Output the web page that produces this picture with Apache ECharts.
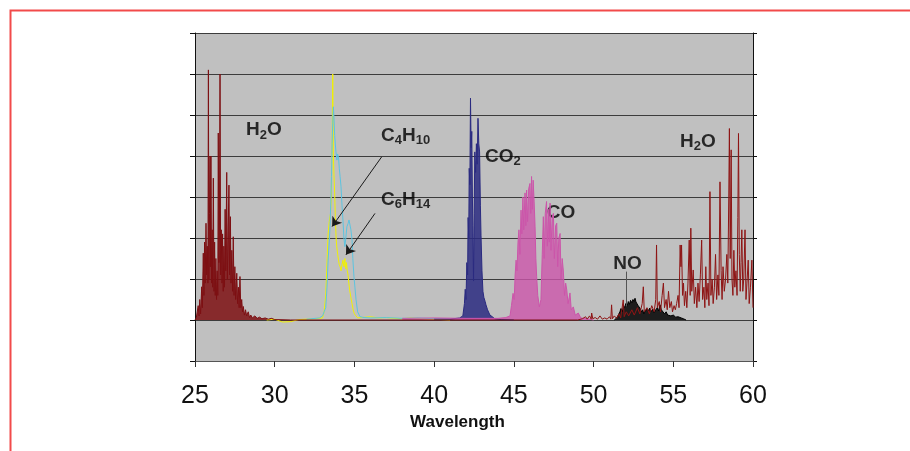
<!DOCTYPE html>
<html>
<head>
<meta charset="utf-8">
<script src="https://cdn.jsdelivr.net/npm/echarts@6/dist/echarts.min.js"></script>
<style>
  html, body { margin: 0; padding: 0; background: #fff; }
  #chart { width: 910px; height: 451px; }
</style>
</head>
<body>
<div id="chart"></div>
<script>
// x = wavelength, y = signal (grid units, baseline at 0)
var xTicks = [25, 30, 35, 40, 45, 50, 55, 60];

var h2oLeft = [[25.0,0.0],[25.08,0.05],[25.14,0.02],[25.2,0.35],[25.25,0.1],[25.3,0.5],[25.35,0.15],[25.42,0.81],[25.46,0.3],[25.52,1.63],[25.56,0.6],[25.6,1.9],[25.64,0.9],[25.69,2.36],[25.73,1.1],[25.77,1.8],[25.81,0.9],[25.84,6.1],[25.87,1.0],[25.91,2.6],[25.94,4.0],[25.97,1.3],[26.0,4.0],[26.04,0.9],[26.08,2.2],[26.11,0.8],[26.15,3.46],[26.19,0.7],[26.23,1.9],[26.27,0.6],[26.31,1.5],[26.35,0.5],[26.39,1.2],[26.43,0.6],[26.46,4.56],[26.5,1.4],[26.53,2.0],[26.57,6.0],[26.61,1.1],[26.65,2.2],[26.69,0.9],[26.73,2.1],[26.77,0.7],[26.81,1.8],[26.85,0.8],[26.89,2.7],[26.93,1.2],[26.99,3.6],[27.03,1.0],[27.07,2.0],[27.13,3.29],[27.17,1.1],[27.22,2.52],[27.26,0.9],[27.31,1.7],[27.36,0.7],[27.4,2.03],[27.45,0.6],[27.5,1.3],[27.55,0.5],[27.62,1.14],[27.67,0.4],[27.72,0.8],[27.77,0.3],[27.82,1.06],[27.87,0.3],[27.93,0.5],[27.98,0.2],[28.03,0.33],[28.1,0.12],[28.17,0.25],[28.24,0.1],[28.34,0.2],[28.42,0.06],[28.5,0.12],[28.6,0.05],[28.75,0.1],[28.9,0.04],[29.05,0.07],[29.2,0.03],[29.4,0.05],[29.6,0.02],[29.8,0.04],[30.0,0.01],[31,0.0],[40,0.0],[49.0,0.0]];

var h2oRight = [[49.0,0.0],[49.3,0.03],[49.5,0.08],[49.6,0.02],[49.75,0.1],[49.85,0.02],[49.88,0.17],[49.95,0.03],[50.1,0.06],[50.25,0.02],[50.4,0.1],[50.55,0.02],[50.7,0.05],[50.85,0.02],[51.0,0.08],[51.08,0.02],[51.13,0.37],[51.18,0.03],[51.3,0.1],[51.45,0.04],[51.6,0.15],[51.7,0.05],[51.86,0.49],[51.92,0.08],[52.05,0.2],[52.2,0.1],[52.4,0.25],[52.55,0.12],[52.75,0.3],[52.9,0.15],[53.05,0.4],[53.12,0.81],[53.18,0.2],[53.35,0.3],[53.5,0.15],[53.65,0.35],[53.8,0.2],[53.9,0.5],[53.95,1.83],[54.0,0.3],[54.12,0.45],[54.2,0.2],[54.3,0.6],[54.38,0.9],[54.45,0.3],[54.55,0.5],[54.62,0.25],[54.7,0.7],[54.78,0.3],[54.88,0.45],[54.95,0.2],[55.05,0.35],[55.13,0.25],[55.21,0.4],[55.3,0.6],[55.36,0.3],[55.43,1.83],[55.48,1.3],[55.52,1.83],[55.58,0.6],[55.64,0.9],[55.7,0.35],[55.78,0.7],[55.85,0.3],[55.92,0.9],[56.0,1.95],[56.06,0.6],[56.1,2.24],[56.16,0.7],[56.25,1.22],[56.32,0.4],[56.4,0.8],[56.48,0.3],[56.55,0.9],[56.62,0.45],[56.7,1.1],[56.78,1.95],[56.84,0.5],[56.92,0.8],[56.98,0.3],[57.04,1.3],[57.1,0.5],[57.18,0.9],[57.24,0.35],[57.3,3.13],[57.36,0.6],[57.44,1.0],[57.5,0.4],[57.58,0.8],[57.65,1.6],[57.72,0.5],[57.8,1.1],[57.86,0.6],[57.93,3.37],[58.0,1.2],[58.06,0.5],[58.12,1.3],[58.2,0.7],[58.28,1.0],[58.36,1.6],[58.42,0.9],[58.48,3.0],[58.52,4.67],[58.57,1.5],[58.63,4.15],[58.68,1.0],[58.74,0.6],[58.8,1.7],[58.86,0.8],[58.93,1.2],[59.0,0.6],[59.05,2.5],[59.09,4.55],[59.14,1.6],[59.2,0.7],[59.25,1.4],[59.3,2.2],[59.36,0.7],[59.42,1.0],[59.5,2.2],[59.56,0.5],[59.62,0.9],[59.7,1.46],[59.76,0.4],[59.84,0.8],[59.93,1.46],[60.0,0.3]];

var c4h10 = [[29.5,0.0],[30,0.02],[30.5,-0.05],[31,-0.04],[31.5,0.01],[32,0.02],[32.5,0.03],[33.0,0.05],[33.1,0.2],[33.2,0.6],[33.26,1.2],[33.3,1.6],[33.35,2.1],[33.42,2.4],[33.5,2.6],[33.55,3.0],[33.6,4.2],[33.64,6.0],[33.68,4.0],[33.72,3.5],[33.76,3.1],[33.8,2.5],[33.85,2.0],[33.89,1.8],[33.95,1.6],[34.0,1.46],[34.05,1.35],[34.1,1.3],[34.16,1.2],[34.22,1.35],[34.28,1.46],[34.34,1.3],[34.4,1.5],[34.45,1.25],[34.5,1.4],[34.55,1.2],[34.6,1.1],[34.65,0.9],[34.7,0.73],[34.78,0.55],[34.85,0.4],[34.92,0.25],[35.0,0.15],[35.1,0.1],[35.2,0.05],[35.5,0.06],[36,0.08],[36.5,0.05],[37,0.06],[37.5,0.04],[38,0.03],[38.5,0.05],[39,0.04],[40,0.02],[41,0.0]];

var c6h14 = [[32,0.02],[32.8,0.05],[33.0,0.1],[33.1,0.2],[33.2,0.3],[33.28,0.8],[33.35,1.46],[33.42,1.9],[33.47,2.28],[33.52,2.9],[33.56,3.5],[33.6,4.3],[33.64,4.8],[33.68,5.2],[33.72,4.9],[33.76,4.5],[33.79,4.47],[33.84,4.1],[33.9,3.9],[33.94,4.05],[33.97,4.02],[34.0,3.98],[34.05,3.7],[34.1,3.5],[34.16,3.25],[34.22,2.8],[34.28,2.44],[34.34,2.0],[34.4,1.79],[34.46,2.0],[34.53,2.28],[34.6,2.35],[34.66,2.44],[34.72,2.44],[34.78,2.2],[34.85,1.95],[34.9,1.5],[34.97,1.06],[35.03,0.8],[35.1,0.5],[35.2,0.2],[35.35,0.08],[35.6,0.06],[36,0.05],[37,0.06],[38,0.04],[39,0.05],[40,0.03],[41,0.02]];

var co2 = [[40,0.02],[41.0,0.02],[41.6,0.05],[41.8,0.1],[41.9,0.4],[41.95,0.75],[42.0,0.5],[42.05,1.4],[42.1,1.1],[42.13,2.5],[42.17,2.0],[42.2,3.7],[42.24,3.3],[42.28,5.41],[42.32,4.2],[42.36,4.6],[42.4,3.0],[42.43,2.3],[42.47,0.95],[42.51,2.6],[42.55,4.1],[42.6,3.6],[42.65,4.3],[42.7,3.8],[42.75,4.92],[42.8,4.3],[42.85,4.1],[42.9,2.8],[42.94,2.07],[43.0,1.2],[43.06,0.7],[43.12,0.55],[43.2,0.45],[43.25,0.37],[43.35,0.25],[43.5,0.12],[43.65,0.08],[43.8,0.03],[44.2,0.01],[45,0.0]];

var co = [[38,0.04],[40,0.05],[42,0.04],[44,0.04],[44.5,0.06],[44.76,0.1],[44.85,0.35],[44.95,0.65],[45.02,0.5],[45.08,1.1],[45.14,1.46],[45.2,1.2],[45.26,1.9],[45.32,2.2],[45.38,1.6],[45.45,2.68],[45.5,2.1],[45.57,3.0],[45.62,2.2],[45.7,3.1],[45.75,2.3],[45.8,3.17],[45.86,2.4],[45.93,3.2],[46.01,3.33],[46.06,2.6],[46.11,3.5],[46.16,2.7],[46.21,3.41],[46.27,2.9],[46.33,2.28],[46.38,1.5],[46.43,1.06],[46.5,0.6],[46.6,0.32],[46.7,0.5],[46.78,1.6],[46.85,2.52],[46.9,1.5],[46.97,2.6],[47.05,2.89],[47.1,1.8],[47.16,2.7],[47.22,1.9],[47.27,2.85],[47.33,1.7],[47.4,2.5],[47.48,2.6],[47.54,1.5],[47.62,2.3],[47.69,2.36],[47.75,1.3],[47.82,2.0],[47.9,2.11],[47.96,1.0],[48.03,1.5],[48.1,1.22],[48.18,0.6],[48.25,0.9],[48.32,0.73],[48.4,0.4],[48.52,0.66],[48.6,0.25],[48.73,0.32],[48.85,0.12],[49.04,0.17],[49.2,0.05],[49.6,0.03],[50,0.0]];

var no = [[51.3,0.0],[51.45,0.05],[51.55,0.12],[51.65,0.2],[51.72,0.28],[51.8,0.2],[51.88,0.35],[51.95,0.3],[52.02,0.4],[52.1,0.33],[52.18,0.45],[52.25,0.38],[52.32,0.48],[52.4,0.42],[52.47,0.5],[52.53,0.45],[52.6,0.53],[52.66,0.44],[52.72,0.47],[52.78,0.36],[52.85,0.4],[52.92,0.28],[53.0,0.2],[53.08,0.25],[53.15,0.15],[53.22,0.22],[53.3,0.18],[53.38,0.27],[53.45,0.22],[53.52,0.29],[53.6,0.2],[53.7,0.26],[53.8,0.18],[53.9,0.25],[54.0,0.3],[54.08,0.22],[54.17,0.37],[54.25,0.25],[54.35,0.22],[54.45,0.15],[54.55,0.2],[54.65,0.12],[54.75,0.15],[54.85,0.1],[55.0,0.12],[55.15,0.07],[55.3,0.08],[55.5,0.05],[55.64,0.03],[55.8,0.0]];

// gas labels: text (rich) and anchor (left edge, vertical centre)
var gasText = ['{n|H}{s|2}{n|O}', '{n|C}{s|4}{n|H}{s|10}', '{n|C}{s|6}{n|H}{s|14}', '{n|CO}{s|2}', '{n|CO}', '{n|NO}', '{n|H}{s|2}{n|O}'];
var gasAt = [[28.2,4.63],[36.67,4.5],[36.67,2.93],[43.19,3.98],[47.06,2.62],[51.24,1.37],[55.42,4.35]];

var FONT = '"Liberation Sans", Arial, sans-serif';

var chart = echarts.init(document.getElementById('chart'));

var lineSeries = function (name, data, color, area) {
  var s = {
    name: name,
    type: 'line',
    data: data,
    showSymbol: false,
    symbol: 'none',
    lineStyle: { color: color, width: 1 },
    silent: true
  };
  if (area) s.areaStyle = { color: color, opacity: area };
  return s;
};

var c6 = lineSeries('C6H14', c6h14, '#5cc4e0');
var c4 = lineSeries('C4H10', c4h10, '#f2f200');
c4.markLine = {
  silent: true,
  symbolSize: 9,
  label: { show: false },
  lineStyle: { color: '#1a1a1a', width: 1, type: 'solid' },
  data: [
    [{ coord: [36.71, 3.98], symbol: 'none' }, { coord: [33.6, 2.28], symbol: 'arrow' }],
    [{ coord: [36.29, 2.6], symbol: 'none' }, { coord: [34.47, 1.59], symbol: 'arrow' }],
    [{ coord: [52.07, 1.18], symbol: 'none', lineStyle: { color: '#555' } }, { coord: [52.07, 0.33], symbol: 'none' }]
  ]
};

var labelData = gasAt.map(function (p, i) {
  return { value: p, label: { formatter: gasText[i] } };
});

var option = {
  animation: false,
  backgroundColor: '#fff',
  graphic: [{
    type: 'rect',
    shape: { x: 10.5, y: 10.5, width: 1000, height: 1000 },
    style: { fill: 'none', stroke: '#f24a4a', lineWidth: 2 },
    silent: true
  }],
  grid: {
    left: 195, right: 157, top: 33, bottom: 90,
    show: true, backgroundColor: '#c0c0c0', borderWidth: 0
  },
  xAxis: {
    type: 'value', min: 25, max: 60, interval: 5,
    name: 'Wavelength',
    nameLocation: 'middle',
    nameGap: 52,
    nameTextStyle: { fontFamily: FONT, fontSize: 17, fontWeight: 'bold', color: '#111', padding: [0, 33, 0, 0] },
    axisLine: { show: true, onZero: false, lineStyle: { color: '#555', width: 1 } },
    axisTick: { show: true, inside: false, length: 6, lineStyle: { color: '#333' } },
    axisLabel: {
      fontFamily: FONT, fontSize: 25, color: '#111', margin: 23,
      formatter: function (v) { return xTicks.indexOf(v) >= 0 ? String(v) : ''; }
    },
    splitLine: { show: false }
  },
  yAxis: [{
    type: 'value', min: -1, max: 7, interval: 1, position: 'left',
    axisLine: { show: true, lineStyle: { color: '#111' } },
    axisTick: { show: true, length: 5, lineStyle: { color: '#111' } },
    axisLabel: { show: false },
    splitLine: { show: true, lineStyle: { color: '#3c3c3c', width: 1 } }
  }, {
    type: 'value', min: -1, max: 7, interval: 1, position: 'right',
    axisLine: { show: true, lineStyle: { color: '#111' } },
    axisTick: { show: true, length: 4, lineStyle: { color: '#111' } },
    axisLabel: { show: false },
    splitLine: { show: false }
  }],
  series: [
    c4,
    c6,
    lineSeries('CO2', co2, '#2a2a80', 0.85),
    lineSeries('CO', co, '#cc55aa', 0.8),
    lineSeries('NO', no, '#000000', 0.85),
    lineSeries('H2O', h2oLeft, '#7d0f12', 0.85),
    lineSeries('H2O', h2oRight, '#8e1414'),
    {
      type: 'scatter',
      symbolSize: 0,
      silent: true,
      data: labelData,
      label: {
        show: true,
        position: 'right',
        distance: 0,
        color: '#000',
        rich: {
          n: { fontFamily: FONT, fontSize: 19, fontWeight: 'bold', color: '#000' },
          s: { fontFamily: FONT, fontSize: 13, fontWeight: 'bold', color: '#000', padding: [10, 0, 0, 0] }
        }
      }
    }
  ]
};

chart.setOption(option);
</script>
</body>
</html>
